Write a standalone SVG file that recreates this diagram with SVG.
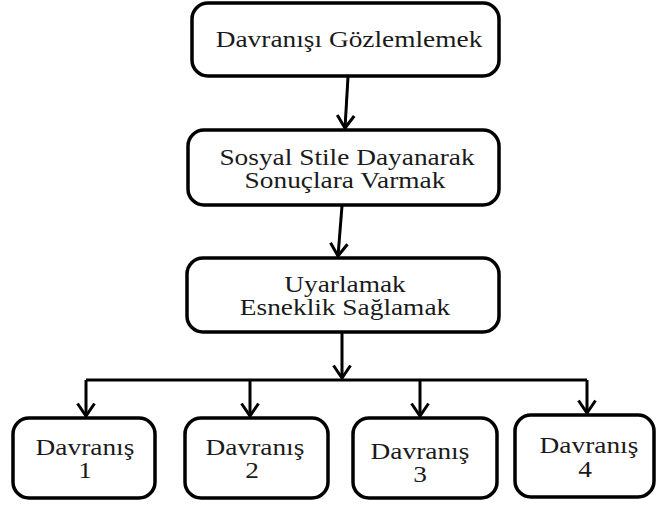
<svg xmlns="http://www.w3.org/2000/svg" width="657" height="505" viewBox="0 0 657 505">
<defs>
<style>
.box{fill:#fff;stroke:#000;stroke-width:3.5}
.t{font-family:'Liberation Serif','Times New Roman',serif;font-size:23px;fill:#1a1a1a;text-anchor:middle}
.c{stroke:#000;stroke-width:3;fill:none}
</style>
<marker id="ah" viewBox="0 0 16 20" refX="14" refY="10" markerWidth="16" markerHeight="20" markerUnits="userSpaceOnUse" orient="auto">
<path d="M1.5,1.5 L14,10 L1.5,18.5" fill="none" stroke="#000" stroke-width="3"/>
</marker>
</defs>
<rect width="657" height="505" fill="#fff"/>
<g id="connectors">
<path class="c" d="M348,77 L345,128" marker-end="url(#ah)"/>
<path class="c" d="M342,206 L338,256" marker-end="url(#ah)"/>
<path class="c" d="M342,333 L342,378" marker-end="url(#ah)"/>
<path class="c" d="M86,380 L587,380"/>
<path class="c" d="M86,380 L86,416" marker-end="url(#ah)"/>
<path class="c" d="M250,380 L250,416" marker-end="url(#ah)"/>
<path class="c" d="M420,380 L420,416" marker-end="url(#ah)"/>
<path class="c" d="M587,380 L587,413" marker-end="url(#ah)"/>
</g>
<g id="n1">
<rect class="box" x="192" y="3" width="307" height="73" rx="16"/>
<text class="t" transform="translate(349,47) scale(1.19,1)">Davranışı Gözlemlemek</text>
</g>
<g id="n2">
<rect class="box" x="188" y="130" width="311" height="75" rx="16"/>
<text class="t" transform="translate(347,165) scale(1.19,1)">Sosyal Stile Dayanarak</text>
<text class="t" transform="translate(345,188) scale(1.19,1)">Sonuçlara Varmak</text>
</g>
<g id="n3">
<rect class="box" x="187" y="258" width="312" height="74" rx="16"/>
<text class="t" transform="translate(345,292) scale(1.19,1)">Uyarlamak</text>
<text class="t" transform="translate(345,315) scale(1.19,1)">Esneklik Sağlamak</text>
</g>
<g id="b1">
<rect class="box" x="13" y="418" width="142" height="80" rx="16"/>
<text class="t" transform="translate(85,455) scale(1.19,1)">Davranış</text>
<text class="t" transform="translate(85,478) scale(1.19,1)">1</text>
</g>
<g id="b2">
<rect class="box" x="185" y="418" width="143" height="80" rx="16"/>
<text class="t" transform="translate(255,455) scale(1.19,1)">Davranış</text>
<text class="t" transform="translate(252,478) scale(1.19,1)">2</text>
</g>
<g id="b3">
<rect class="box" x="353" y="418" width="144" height="80" rx="16"/>
<text class="t" transform="translate(420,459) scale(1.19,1)">Davranış</text>
<text class="t" transform="translate(420,482) scale(1.19,1)">3</text>
</g>
<g id="b4">
<rect class="box" x="515" y="415" width="139" height="82" rx="16"/>
<text class="t" transform="translate(589,453) scale(1.19,1)">Davranış</text>
<text class="t" transform="translate(585,477) scale(1.19,1)">4</text>
</g>
</svg>
